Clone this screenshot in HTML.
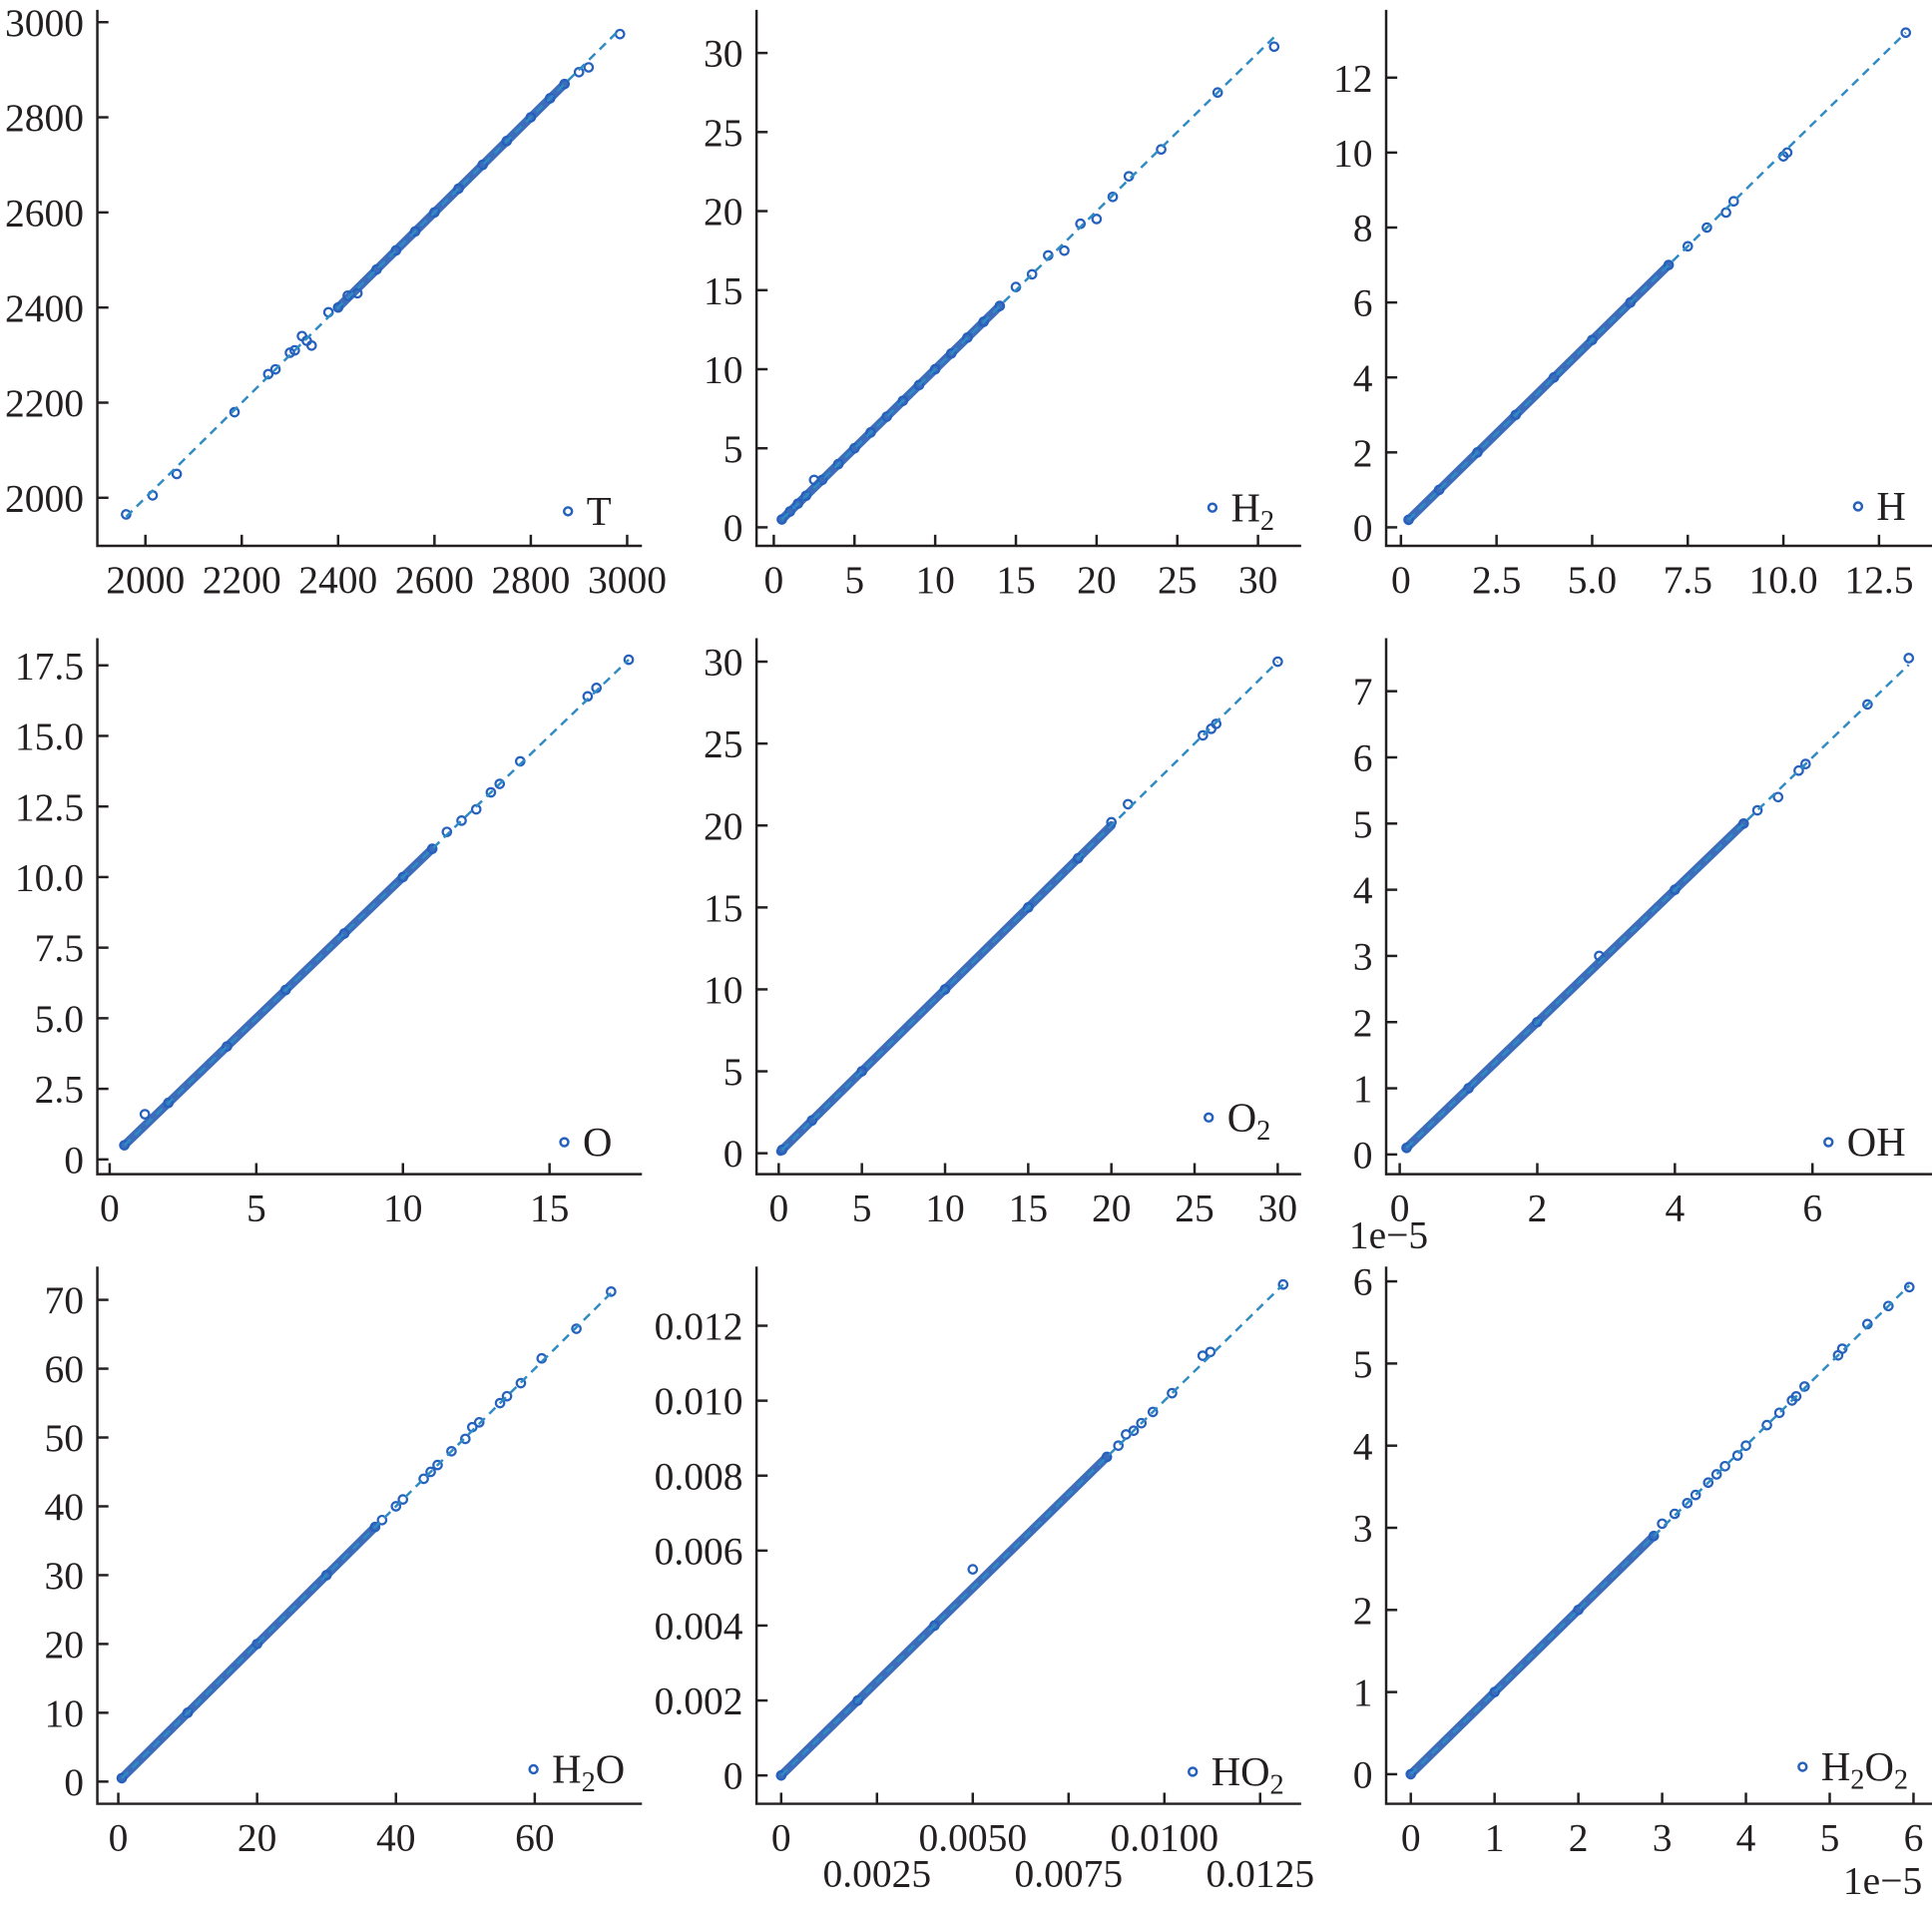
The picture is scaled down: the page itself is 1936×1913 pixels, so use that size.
<!DOCTYPE html>
<html><head><meta charset="utf-8"><style>
html,body{margin:0;padding:0;background:#fff;}
svg{display:block;}
text{font-family:"Liberation Serif",serif;fill:#231f20;}
</style></head><body>
<svg id="fig" width="1936" height="1913" viewBox="0 0 1568 1549.4" xmlns="http://www.w3.org/2000/svg"></svg>
<script>
// ---- data (true vs predicted) ----
const T_x=[1960,2015,2065,2185,2255,2270,2300,2310,2325,2335,2345,2380,2400,2420,2440,2480,2520,2560,2600,2650,2700,2750,2800,2840,2870,2900,2920,2985];
const T_y=[1965,2005,2050,2180,2260,2270,2305,2310,2340,2330,2320,2390,2400,2425,2430,2480,2520,2560,2600,2650,2700,2750,2800,2840,2870,2895,2905,2975];
const T_dense=[2400,2870];
const H2_x=[0.5,1,1.5,2,2.5,3,4,5,6,7,8,9,10,11,12,13,14,15,16,17,18,19,20,21,22,24,27.5,31];
const H2_y=[0.5,1,1.5,2,3.0,3,4,5,6,7,8,9,10,11,12,13,14,15.2,16,17.2,17.5,19.2,19.5,20.9,22.2,23.9,27.5,30.4];
const H2_dense=[0.5,14];
const H_x=[0.2,1,2,3,4,5,6,7,7.5,8,8.5,8.7,10,10.1,13.2];
const H_y=[0.2,1,2,3,4,5,6,7,7.5,8,8.4,8.7,9.9,10,13.2];
const H_dense=[0.2,7];
const O_x=[0.5,1.2,2,4,6,8,10,11,11.5,12,12.5,13,13.3,14,16.3,16.6,17.7];
const O_y=[0.5,1.6,2,4,6,8,10,11,11.6,12,12.4,13,13.3,14.1,16.4,16.7,17.7];
const O_dense=[0.5,11];
const O2_x=[0.2,2,5,10,15,18,20,21,25.5,26,26.3,30];
const O2_y=[0.2,2,5,10,15,18,20.2,21.3,25.5,25.9,26.2,30];
const O2_dense=[0.1,20];
const OH_x=[0.1,1,2,2.9,4,5,5.2,5.5,5.8,5.9,6.8,7.4];
const OH_y=[0.1,1,2,3.0,4,5,5.2,5.4,5.8,5.9,6.8,7.5];
const OH_dense=[0.1,5];
const H2O_x=[0.5,10,20,30,37,38,40,41,44,45,46,48,50,51,52,55,56,58,61,66,71];
const H2O_y=[0.5,10,20,30,37,38,40,41,44,45,46,48,49.8,51.5,52.2,55,56,57.9,61.5,65.8,71.2];
const H2O_dense=[0.5,37];
const HO2_x=[0,0.002,0.004,0.005,0.0085,0.0088,0.009,0.0092,0.0094,0.0097,0.0102,0.011,0.0112,0.0131];
const HO2_y=[0,0.002,0.004,0.0055,0.0085,0.0088,0.0091,0.0092,0.0094,0.0097,0.0102,0.0112,0.0113,0.0131];
const HO2_dense=[0,0.0085];
const H2O2_x=[0,1,2,2.9,3.0,3.15,3.3,3.4,3.55,3.65,3.75,3.9,4.0,4.25,4.4,4.55,4.6,4.7,5.1,5.15,5.45,5.7,5.95];
const H2O2_y=[0,1,2,2.9,3.05,3.17,3.3,3.4,3.55,3.65,3.75,3.88,4.0,4.25,4.4,4.55,4.6,4.72,5.1,5.18,5.48,5.7,5.93];
const H2O2_dense=[0,2.9];
// ---- tick labels ----
const T_xt=[2000,2200,2400,2600,2800,3000], T_yt=[2000,2200,2400,2600,2800,3000];
const H2_xt=[0,5,10,15,20,25,30], H2_yt=[0,5,10,15,20,25,30];
const H_xt=[0,2.5,5,7.5,10,12.5], H_xt_lbl=["0","2.5","5.0","7.5","10.0","12.5"], H_yt=[0,2,4,6,8,10,12];
const O_xt=[0,5,10,15], O_yt=[0,2.5,5,7.5,10,12.5,15,17.5], O_yt_lbl=["0","2.5","5.0","7.5","10.0","12.5","15.0","17.5"];
const O2_xt=[0,5,10,15,20,25,30], O2_yt=[0,5,10,15,20,25,30];
const OH_xt=[0,2,4,6], OH_yt=[0,1,2,3,4,5,6,7];
const H2O_xt=[0,20,40,60], H2O_yt=[0,10,20,30,40,50,60,70];
const HO2_xt=[0,0.0025,0.005,0.0075,0.01,0.0125], HO2_xt_lbl=["0","0.0025","0.0050","0.0075","0.0100","0.0125"];
const HO2_yt=[0,0.002,0.004,0.006,0.008,0.01,0.012], HO2_yt_lbl=["0","0.002","0.004","0.006","0.008","0.010","0.012"];
const H2O2_xt=[0,1,2,3,4,5,6], H2O2_yt=[0,1,2,3,4,5,6];

const NS="http://www.w3.org/2000/svg";
const svg=document.getElementById('fig');
function mk(tag,attrs,parent){const e=document.createElementNS(NS,tag);for(const k in attrs)e.setAttribute(k,attrs[k]);(parent||svg).appendChild(e);return e;}

const panels=[
 {id:'t',xs:T_x,ys:T_y,dense:T_dense,xt:T_xt,yt:T_yt,L:79,R:521,top:8,B:443,xa:[2000,118,3000,509],ya:[2000,404,3000,18],leg:[461,415],lbl:['T']},
 {id:'h2',xs:H2_x,ys:H2_y,dense:H2_dense,xt:H2_xt,yt:H2_yt,L:614,R:1056,top:8,B:443,xa:[0,628,30,1021],ya:[0,428,30,43],leg:[984,412],lbl:['H','2']},
 {id:'h',xs:H_x,ys:H_y,dense:H_dense,xt:H_xt,xtl:H_xt_lbl,yt:H_yt,L:1125,R:1568,top:8,B:443,xa:[0,1137,12.5,1525],ya:[0,428,12,63],leg:[1508,411],lbl:['H']},
 {id:'o',xs:O_x,ys:O_y,dense:O_dense,xt:O_xt,yt:O_yt,ytl:O_yt_lbl,L:79,R:521,top:518,B:953,xa:[0,89,15,446],ya:[0,941,17.5,540],leg:[458,927],lbl:['O']},
 {id:'o2',xs:O2_x,ys:O2_y,dense:O2_dense,xt:O2_xt,yt:O2_yt,L:614,R:1056,top:518,B:953,xa:[0,632,30,1037],ya:[0,936,30,537],leg:[981,907],lbl:['O','2']},
 {id:'oh',xs:OH_x,ys:OH_y,dense:OH_dense,xt:OH_xt,yt:OH_yt,L:1125,R:1568,top:518,B:953,xa:[0,1136,6,1471],ya:[0,937,7,561],leg:[1484,927],lbl:['OH'],off:[1127,1013]},
 {id:'h2o',xs:H2O_x,ys:H2O_y,dense:H2O_dense,xt:H2O_xt,yt:H2O_yt,L:79,R:521,top:1028,B:1464,xa:[0,96,60,434],ya:[0,1446,70,1055],leg:[433,1436],lbl:['H','2','O']},
 {id:'ho2',xs:HO2_x,ys:HO2_y,dense:HO2_dense,xt:HO2_xt,xtl:HO2_xt_lbl,yt:HO2_yt,ytl:HO2_yt_lbl,L:614,R:1056,top:1028,B:1464,xa:[0,634,0.01,945],ya:[0,1441,0.012,1076],leg:[968,1438],lbl:['HO','2'],stagger:true},
 {id:'h2o2',xs:H2O2_x,ys:H2O2_y,dense:H2O2_dense,xt:H2O2_xt,yt:H2O2_yt,L:1125,R:1568,top:1028,B:1464,xa:[0,1145,6,1553],ya:[0,1440,6,1040],leg:[1463,1434],lbl:['H','2','O','2'],off:[1528,1537]}
];

panels.forEach(p=>{
  const g=mk('g',{});
  
  
  const sx=v=>p.xa[1]+(v-p.xa[0])*(p.xa[3]-p.xa[1])/(p.xa[2]-p.xa[0]);
  const sy=v=>p.ya[1]+(v-p.ya[0])*(p.ya[3]-p.ya[1])/(p.ya[2]-p.ya[0]);
  const ax=mk('path',{d:`M${p.L},${p.top}V${p.B}H${p.R}`,fill:'none',stroke:'#231f20','stroke-width':2},g);
  
  
  p.yt.forEach((v,i)=>{
    const y=sy(v);
    mk('line',{x1:p.L,x2:p.L+9,y1:y,y2:y,stroke:'#231f20','stroke-width':2},g);
    const t=mk('text',{x:p.L-11,y:y+11,'text-anchor':'end','font-size':32},g);
    t.textContent=p.ytl?p.ytl[i]:String(v);
    
    
  });
  p.xt.forEach((v,i)=>{
    const x=sx(v);
    mk('line',{x1:x,x2:x,y1:p.B,y2:p.B-9,stroke:'#231f20','stroke-width':2},g);
    const yy=p.stagger&&(i%2===1)?p.B+67:p.B+38;
    const t=mk('text',{x:x,y:yy,'text-anchor':'middle','font-size':32},g);
    t.textContent=p.xtl?p.xtl[i]:String(v);
    
    
  });
  if(p.off){
    const t=mk('text',{x:p.off[0],y:p.off[1],'text-anchor':'middle','font-size':32},g);
    t.textContent='1e\u22125';
    
    
  }
  const d0=p.dense[0],d1=p.dense[1];
  const band=mk('line',{x1:sx(d0),y1:sy(d0),x2:sx(d1),y2:sy(d1),stroke:'#2b5fb4','stroke-width':7,'stroke-linecap':'round','stroke-opacity':0.92},g);
  
  
  p.xs.forEach((v,i)=>{
    const c=mk('circle',{cx:sx(v),cy:sy(p.ys[i]),r:3.4,fill:'none',stroke:'#2560bd','stroke-width':1.8},g);
    
    
  });
  const lo=Math.min(...p.xs),hi=Math.max(...p.xs);
  const dl=mk('line',{x1:sx(lo),y1:sy(lo),x2:sx(hi),y2:sy(hi),stroke:'#2f8bc4','stroke-width':2,'stroke-dasharray':'7,5'},g);
  
  
  const lg=mk('g',{},g);
  
  
  mk('circle',{cx:p.leg[0],cy:p.leg[1],r:3.2,fill:'none',stroke:'#2560bd','stroke-width':2},lg);
  const lt=mk('text',{x:p.leg[0]+15,y:p.leg[1]+11,'font-size':33},lg);
  p.lbl.forEach(s=>{
    const ts=mk('tspan',{},lt);
    if(/^\d$/.test(s)){ts.setAttribute('font-size','23');ts.setAttribute('dy','7');}
    else if(lt.childNodes.length>1 && /^\d$/.test(lt.childNodes[lt.childNodes.length-2].textContent)){ts.setAttribute('dy','-7');}
    ts.textContent=s;
  });
});
</script>
</body></html>
